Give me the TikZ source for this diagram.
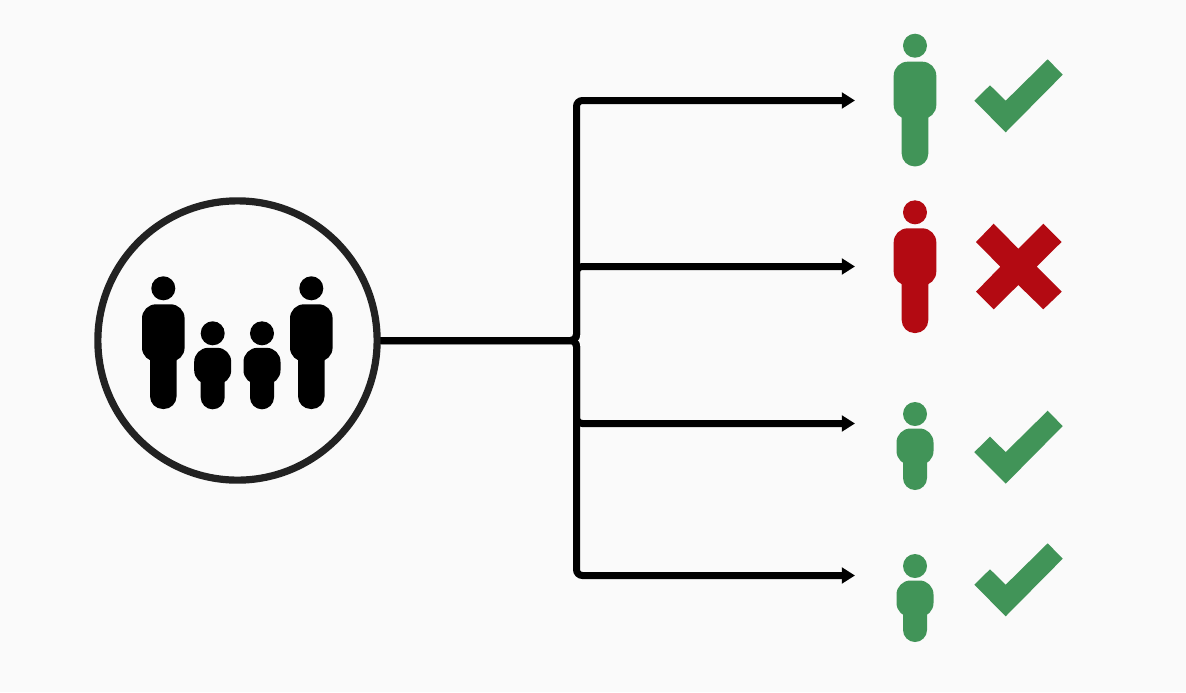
\documentclass[tikz,border=0pt]{standalone}
\usepackage{xcolor}
\usetikzlibrary{arrows.meta}

\definecolor{pagebg}{HTML}{FAFAFA}
\definecolor{okgreen}{HTML}{419458}
\definecolor{nored}{HTML}{B30A12}
\definecolor{ringgray}{HTML}{222222}

\tikzset{
	ring/.style={circle, draw=ringgray, line width=0.18cm, minimum size=6.98cm, inner sep=0pt},
	link/.style={draw=black, line width=0.175cm, rounded corners=0.15cm, -{Triangle[length=0.33cm,width=0.39cm]}},
	stub/.style={inner sep=0pt, minimum size=0pt}
}

% x, y of the head, colour
\newcommand{\adultfig}[3]{
	\fill[#3] (#1,#2) circle (0.3cm);
	\fill[#3, rounded corners=0.35cm] (#1-21.3,#2+16) rectangle (#1+21.3,#2+73.3);
	\fill[#3, rounded corners=0.32cm] (#1-13.3,#2+50) rectangle (#1+13.3,#2+120.7);
}
\newcommand{\childfig}[3]{
	\fill[#3] (#1,#2) circle (0.3cm);
	\fill[#3, rounded corners=0.35cm] (#1-18.5,#2+14.5) rectangle (#1+18.5,#2+51);
	\fill[#3, rounded corners=0.3cm] (#1-12,#2+30) rectangle (#1+12,#2+76);
}
% y offset of the mark
\newcommand{\tickmark}[1]{
	\fill[okgreen] (1047.7,59.3+#1) -- (1062.7,74.7+#1) -- (1005.7,132.3+#1) -- (974.3,100.7+#1)
		-- (990,85.3+#1) -- (1005.7,100.7+#1) -- cycle;
}

\begin{document}
\begin{tikzpicture}[x=0.025cm, y=-0.025cm]
	\fill[pagebg] (0,0) rectangle (1186,692);

	% Gruppe
	\node[ring] (crowd) at (237.5,340.5) {};
	\adultfig{163.3}{288.3}{black}
	\childfig{212.7}{333.3}{black}
	\childfig{262}{333.3}{black}
	\adultfig{311.3}{288.3}{black}

	% Verbindungen
	\node[stub] (split) at (576.5,340.5) {};
	\foreach \name/\y in {first/100.5, second/266.5, third/423.5, fourth/575.5}{
		\node[stub] (\name) at (855,\y) {};
		\draw[link] (crowd.east) -- (split.center) |- (\name.center);
	}

	% Personen
	\adultfig{915}{45.7}{okgreen}
	\adultfig{915}{212.3}{nored}
	\childfig{915}{414}{okgreen}
	\childfig{915}{566}{okgreen}

	% Haken + Kreuz
	\foreach \dy in {0, 351.4, 484}{
		\tickmark{\dy}
	}
	\fill[nored] (993.7,223.7) -- (1018.3,248.7) -- (1043.3,223.7) -- (1061.5,242) -- (1036.7,266.7)
		-- (1061.7,291.7) -- (1043.3,309.3) -- (1018.3,285) -- (993.7,309.3) -- (976,291.7)
		-- (1000.3,266.7) -- (976,242) -- cycle;
\end{tikzpicture}
\end{document}
